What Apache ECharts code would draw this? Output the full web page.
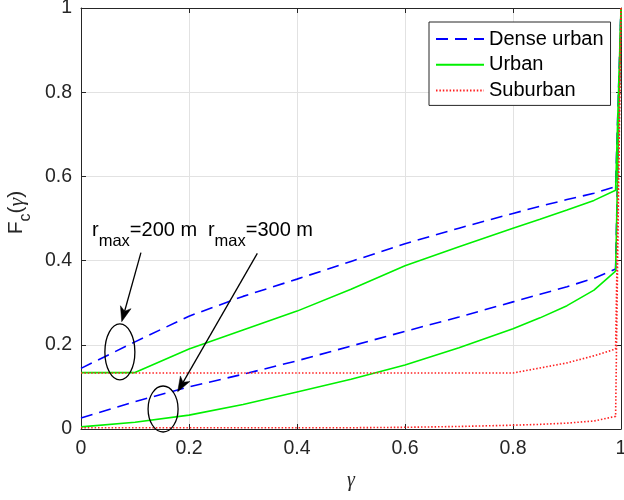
<!DOCTYPE html>
<html><head><meta charset="utf-8">
<script src="https://cdn.jsdelivr.net/npm/echarts@6/dist/echarts.min.js"></script>
<style>html,body{margin:0;padding:0;background:#fff}#c{width:624px;height:500px}</style>
</head><body><div id="c"></div>
<script>
// ---- data ----
const gamma = [0, 0.1, 0.2, 0.3, 0.4, 0.5, 0.6, 0.7, 0.8, 0.85, 0.9, 0.95, 0.99, 1];
const denseUrban200 = [0.144, 0.207, 0.268, 0.315, 0.356, 0.398, 0.440, 0.477, 0.512, 0.529, 0.545, 0.560, 0.576, 1];
const urban200      = [0.134, 0.134, 0.190, 0.235, 0.280, 0.332, 0.388, 0.433, 0.477, 0.498, 0.520, 0.543, 0.567, 1];
const suburban200   = [0.133, 0.133, 0.133, 0.133, 0.133, 0.133, 0.133, 0.133, 0.133, 0.145, 0.157, 0.174, 0.190, 1];
const denseUrban300 = [0.026, 0.065, 0.100, 0.130, 0.162, 0.197, 0.232, 0.266, 0.302, 0.320, 0.338, 0.358, 0.380, 1];
const urban300      = [0.005, 0.016, 0.033, 0.058, 0.088, 0.118, 0.152, 0.193, 0.238, 0.264, 0.293, 0.330, 0.375, 1];
const suburban300   = [0.003, 0.003, 0.003, 0.003, 0.003, 0.003, 0.004, 0.006, 0.009, 0.011, 0.014, 0.019, 0.030, 1];
const xTicks = [0, 0.2, 0.4, 0.6, 0.8, 1];
const yTicks = [0, 0.2, 0.4, 0.6, 0.8, 1];
const legendNames = ['Dense urban', 'Urban', 'Suburban'];
const annotationTexts = ['200', '300'];
// annotation anchors in data coordinates
const ellipseCenters = [[0.072, 0.183], [0.152, 0.0475]];
const arrowFrom = [[0.111, 0.419], [0.3265, 0.417]];
const arrowTo = [[0.0754, 0.255], [0.179, 0.0886]];
const textAnchors = [[0.0204, 0.470], [0.235, 0.470]];

const FONT = "'Liberation Sans', Arial, Helvetica, sans-serif";
const SERIF = "'Liberation Serif', 'DejaVu Serif', serif";
const AX = '#262626';

const chart = echarts.init(document.getElementById('c'), null, {renderer: 'canvas'});
const pairs = arr => gamma.map((g, i) => [g, arr[i]]);
const styles = {
  'Dense urban': {color: '#0000ff', type: [12, 7], width: 1.6},
  'Urban': {color: '#00f000', type: 'solid', width: 1.6},
  'Suburban': {color: '#ff2020', type: [1.5, 1.9], width: 1.6}
};
function mk(name, arr) {
  const s = styles[name];
  return {
    type: 'line', name: name, data: pairs(arr), symbol: 'none', showSymbol: false,
    lineStyle: {color: s.color, width: s.width, type: s.type},
    itemStyle: {color: s.color}, animation: false, z: 3
  };
}
const axisCommon = {
  type: 'value', min: 0, max: 1, interval: 0.2,
  axisLine: {show: true, onZero: false, lineStyle: {color: AX, width: 1}},
  axisTick: {show: true, inside: true, length: 5, lineStyle: {color: AX, width: 1}}
};
const option = {
  backgroundColor: '#fff',
  animation: false,
  grid: {left: 81, right: 3, top: 8, bottom: 71, containLabel: false, outerBoundsMode: 'none'},
  legend: {
    data: legendNames, orient: 'vertical', left: 429, top: 22,
    padding: [7, 7, 5, 6], itemWidth: 48, itemHeight: 20, itemGap: 5.7,
    textStyle: {fontSize: 20, fontFamily: FONT, color: '#000', lineHeight: 20},
    itemStyle: {opacity: 0},
    borderColor: AX, borderWidth: 1, backgroundColor: '#fff', borderRadius: 0,
    selectedMode: false
  },
  xAxis: [
    Object.assign({}, axisCommon, {
      position: 'bottom',
      axisLabel: {fontSize: 19.5, fontFamily: FONT, color: AX, margin: 10,
        formatter: v => (xTicks.indexOf(v) >= 0 ? String(v) : '')},
      splitLine: {show: true, lineStyle: {color: '#e2e2e2', width: 1}},
      name: 'γ', nameLocation: 'middle', nameGap: 42,
      nameTextStyle: {fontSize: 20, fontFamily: SERIF, fontStyle: 'italic', color: AX}
    }),
    Object.assign({}, axisCommon, {
      position: 'top', axisLabel: {show: false}, splitLine: {show: false}
    })
  ],
  yAxis: [
    Object.assign({}, axisCommon, {
      position: 'left',
      axisLabel: {fontSize: 19.5, fontFamily: FONT, color: AX, margin: 9,
        formatter: v => (yTicks.indexOf(v) >= 0 ? String(v) : '')},
      splitLine: {show: true, lineStyle: {color: '#e2e2e2', width: 1}},
      name: '{a|F}{b|c}{a|(}{g|γ}{a|)}', nameLocation: 'middle', nameGap: 49, nameRotate: 90,
      nameTextStyle: {
        color: AX,
        padding: [0, 0, 0, 12],
        rich: {
          a: {fontSize: 21, fontFamily: FONT, color: AX, lineHeight: 22, verticalAlign: 'top'},
          b: {fontSize: 16, fontFamily: FONT, color: AX, lineHeight: 15, padding: [12, 0, 0, 0], verticalAlign: 'top'},
          g: {fontSize: 22, fontFamily: SERIF, fontStyle: 'italic', color: AX, lineHeight: 22, verticalAlign: 'top'}
        }
      }
    }),
    Object.assign({}, axisCommon, {
      position: 'right', axisLabel: {show: false}, splitLine: {show: false}
    })
  ],
  series: [
    mk('Dense urban', denseUrban200),
    mk('Dense urban', denseUrban300),
    mk('Urban', urban200),
    mk('Urban', urban300),
    mk('Suburban', suburban200),
    mk('Suburban', suburban300)
  ]
};
chart.setOption(option);

function buildGraphics() {
  const g = [];
  const toPx = p => chart.convertToPixel({gridIndex: 0}, p);
  annotationTexts.forEach((t, i) => {
    const c = toPx(ellipseCenters[i]);
    const ry = i === 0 ? 28 : 23;
    g.push({type: 'ellipse', shape: {cx: c[0], cy: c[1], rx: 15, ry: ry},
      style: {fill: null, stroke: '#000', lineWidth: 1.3}, z: 100});
    const p0 = toPx(arrowFrom[i]);
    const p1 = toPx(arrowTo[i]);
    const dx = p1[0] - p0[0], dy = p1[1] - p0[1];
    const L = Math.hypot(dx, dy), ux = dx / L, uy = dy / L;
    const hl = 15, hw = 5.5;
    const base = [p1[0] - ux * hl, p1[1] - uy * hl];
    const notch = [p1[0] - ux * hl * 0.72, p1[1] - uy * hl * 0.72];
    const lft = [base[0] - uy * hw, base[1] + ux * hw];
    const rgt = [base[0] + uy * hw, base[1] - ux * hw];
    g.push({type: 'line', shape: {x1: p0[0], y1: p0[1], x2: notch[0], y2: notch[1]},
      style: {stroke: '#000', lineWidth: 1.3}, z: 100});
    g.push({type: 'polygon', shape: {points: [p1, lft, notch, rgt]},
      style: {fill: '#000', stroke: '#000', lineWidth: 0.5}, z: 100});
    const ta = toPx(textAnchors[i]);
    g.push({type: 'text', x: ta[0], y: ta[1] - 11, z: 100,
      style: {
        text: '{a|r}{b|max}{a|=' + t + ' m}', align: 'left', verticalAlign: 'top',
        rich: {
          a: {fontSize: 20, fontFamily: FONT, fill: '#000', lineHeight: 22, verticalAlign: 'top'},
          b: {fontSize: 16.5, fontFamily: FONT, fill: '#000', lineHeight: 16, padding: [13, 0, 0, 0], verticalAlign: 'top'}
        }
      }});
  });
  chart.setOption({graphic: g});
}
buildGraphics();
</script></body></html>
